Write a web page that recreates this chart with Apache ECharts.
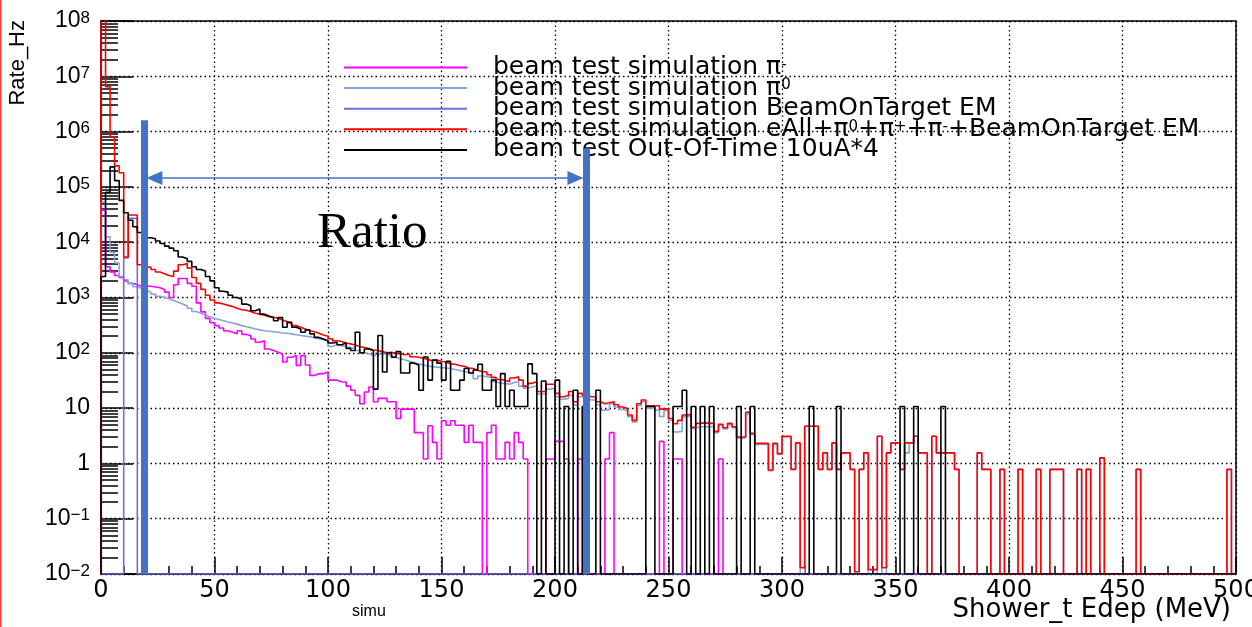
<!DOCTYPE html>
<html>
<head>
<meta charset="utf-8">
<script src="https://cdn.jsdelivr.net/npm/echarts@6/dist/echarts.min.js"></script>
<style>
  html, body { margin: 0; padding: 0; background: #fff; }
  #chart { width: 1252px; height: 627px; }
</style>
</head>
<body>
<div id="chart"></div>
<script>
// histogram: 250 bins of 2 MeV, 0-500 MeV, rate in Hz (0 = empty bin)
const binWidth = 2;
const yMin = 0.01;
const yMax = 1e8;

const piMinus = [
  3.8e4, 3.6e3, 2.9e3, 2.5e3, 2.3e3, 2.0e3, 1.8e3, 1.7e3, 1.6e3, 1.6e3,
  1.6e3, 1.55e3, 1.5e3, 1.4e3, 1.25e3, 1.0e3, 1.7e3, 2.2e3, 2.2e3, 1.8e3,
  1.6e3, 800, 550, 420, 350, 310, 280, 250, 235, 220,
  250, 215, 205, 178, 155, 165, 117, 110, 102, 95,
  68, 83, 89, 59, 89, 60, 39, 42, 42, 45,
  32, 32, 30, 29.5, 25, 21, 17, 12, 19.5, 24,
  13, 15, 15, 13, 13, 6.5, 9.6, 9.6, 9.6, 3.6,
  3.6, 1.2, 4.8, 2.4, 1.2, 5.9, 4.9, 5.9, 4.9, 4.9,
  2.4, 4.9, 2.4, 2.4, 0, 3.6, 4.9, 1.2, 1.2, 2.4,
  1.2, 3.6, 2.4, 1.2, 0, 0, 0, 0, 1.2, 1.2,
  2.5, 2.5, 1.2, 0, 0, 1.2, 1.2, 0, 0, 0,
  0, 1.2, 3.6, 0, 0, 0, 0, 0, 0, 0,
  0, 0, 0, 2.5, 0, 0, 1.2, 1.2, 0, 0,
  0, 0, 0, 0, 0, 0, 1.2, 0, 0, 0,
  0, 0, 0, 0, 0, 0, 0, 0, 0, 0,
  0, 0, 0, 0, 0, 0, 0, 0, 0, 0,
  0, 0, 0, 0, 0, 0, 0, 0, 0, 0,
  0, 0, 0, 0, 0, 0, 0, 0, 0, 0,
  0, 0, 0, 0, 0, 0, 0, 0, 0, 0,
  0, 0, 0, 0, 0, 0, 0, 0, 0, 0,
  0, 0, 0, 0, 0, 0, 0, 0, 0, 0,
  0, 0, 0, 0, 0, 0, 0, 0, 0, 0,
  0, 0, 0, 0, 0, 0, 0, 0, 0, 0,
  0, 0, 0, 0, 0, 0, 0, 0, 0, 0,
  0, 0, 0, 0, 0, 0, 0, 0, 0, 0
];

const piZero = [
  5.3e4, 1.25e4, 6.6e3, 4.2e3, 2.4e3, 2.1e3, 1.8e3, 1.56e3, 1.45e3, 1.35e3,
  1.25e3, 1.15e3, 1.05e3, 1.0e3, 950, 880, 820, 760, 700, 640,
  560, 520, 480, 450, 420, 400, 380, 360, 345, 330,
  310, 295, 285, 270, 260, 250, 245, 240, 235, 228,
  225, 220, 212, 205, 200, 195, 188, 180, 172, 165,
  130, 140, 135, 130, 125, 120, 110, 100, 96, 89,
  92, 96, 94, 88, 82, 78, 74, 70, 67, 63,
  60, 58, 56, 55, 54, 53, 52, 50, 48, 46,
  44, 42, 34, 38, 37, 36, 30, 28, 28, 27,
  29, 30, 25, 23, 24, 25, 18, 18, 22, 23,
  16, 14.5, 15, 17, 11.3, 16, 15, 14, 14, 11.5,
  9.2, 9.4, 12, 10.5, 9.5, 9, 7, 5.6, 11, 13,
  10, 10, 9.2, 7, 9, 6, 3.7, 3.8, 7, 7.2,
  4.3, 4.6, 4.6, 4.6, 4.6, 3.6, 4.8, 4.2, 5.0, 4.4,
  2.9, 2.9, 7.8, 3.3, 2.2, 2.2, 2.2, 0.74, 2.2, 1.45,
  3.0, 3.0, 0.78, 2.35, 0, 4.7, 4.7, 4.7, 0.78, 1.55,
  0.78, 2.35, 0.78, 1.55, 1.55, 0.78, 0, 0.78, 1.55, 0,
  0, 3.1, 0, 1.55, 2.35, 2.35, 0.78, 1.55, 2.35, 3.1,
  1.55, 1.55, 0, 3.1, 1.55, 1.55, 1.55, 1.55, 0.78, 0,
  0, 0, 0, 1.55, 0.78, 0.78, 0, 0, 0.78, 0,
  0, 0, 0.78, 0, 0, 0, 0.78, 0, 0, 0.78,
  0.78, 0.78, 0, 0, 0, 0.78, 0, 0.78, 0, 0,
  1.26, 0, 0, 0, 0, 0, 0, 0, 0.78, 0,
  0, 0, 0, 0, 0, 0, 0, 0, 0, 0,
  0, 0, 0, 0, 0, 0, 0, 0, 0.78, 0
];

const beamOnTarget = [
  0, 0, 0, 0, 0, 5.2e3, 2.7e4, 2.7e4, 0, 0,
  0, 0, 0, 0, 0, 0, 0, 0, 0, 0,
  0, 0, 0, 0, 0, 0, 0, 0, 0, 0,
  0, 0, 0, 0, 0, 0, 0, 0, 0, 0,
  0, 0, 0, 0, 0, 0, 0, 0, 0, 0,
  0, 0, 0, 0, 0, 0, 0, 0, 0, 0,
  0, 0, 0, 0, 0, 0, 0, 0, 0, 0,
  0, 0, 0, 0, 0, 0, 0, 0, 0, 0,
  0, 0, 0, 0, 0, 0, 0, 0, 0, 0,
  0, 0, 0, 0, 0, 0, 0, 0, 0, 0,
  0, 0, 0, 0, 0, 0, 0, 0, 0, 0,
  0, 0, 0, 0, 0, 0, 0, 0, 0, 0,
  0, 0, 0, 0, 0, 0, 0, 0, 0, 0,
  0, 0, 0, 0, 0, 0, 0, 0, 0, 0,
  0, 0, 0, 0, 0, 0, 0, 0, 0, 0,
  0, 0, 0, 0, 0, 0, 0, 0, 0, 0,
  0, 0, 0, 0, 0, 0, 0, 0, 0, 0,
  0, 0, 0, 0, 0, 0, 0, 0, 0, 0,
  0, 0, 0, 0, 0, 0, 0, 0, 0, 0,
  0, 0, 0, 0, 0, 0, 0, 0, 0, 0,
  0, 0, 0, 0, 0, 0, 0, 0, 0, 0,
  0, 0, 0, 0, 0, 0, 0, 0, 0, 0,
  0, 0, 0, 0, 0, 0, 0, 0, 0, 0,
  0, 0, 0, 0, 0, 0, 0, 0, 0, 0,
  0, 0, 0, 0, 0, 0, 0, 0, 0, 0
];

const allSim = [
  3e8, 6.5e6, 8e5, 2.4e5, 1.8e5, 5.4e3, 3.1e4, 3.1e4, 3.9e3, 3.6e3,
  3.5e3, 3.2e3, 2.9e3, 2.7e3, 2.5e3, 2.4e3, 3.0e3, 3.9e3, 4.1e3, 3.4e3,
  2.3e3, 1.8e3, 1.4e3, 1.1e3, 900, 800, 760, 720, 690, 640,
  600, 590, 560, 520, 500, 480, 450, 440, 420, 390,
  365, 340, 310, 290, 270, 250, 240, 225, 210, 200,
  180, 165, 160, 150, 145, 138, 130, 125, 120, 112,
  110, 105, 100, 102, 98, 95, 92, 95, 85, 83,
  80, 76, 72, 74, 70, 68, 63, 62, 59, 57,
  53, 52, 48, 46, 45, 40, 36, 33, 32, 30,
  35, 37, 32, 25, 28, 30, 20, 20, 27, 27,
  18.5, 16, 17, 20, 13, 18.5, 17, 16, 16, 13,
  12, 12.5, 13, 11.5, 10.5, 9.8, 7.5, 6, 12, 14,
  11, 11, 11, 9.6, 9.8, 6.5, 5.2, 6, 7.5, 7.7,
  4.5, 5.3, 5.4, 5.3, 5.3, 3.8, 5.1, 4.4, 5.3, 4.6,
  3.0, 3.0, 8.4, 3.5, 2.3, 2.3, 2.3, 0.76, 2.3, 1.5,
  3.1, 3.1, 0.78, 2.35, 0.013, 4.7, 4.7, 4.7, 0.78, 1.55,
  0.78, 2.35, 0.78, 1.55, 1.55, 0.78, 0.011, 0.78, 1.55, 0.012,
  0.012, 3.1, 0.013, 1.55, 2.35, 2.35, 0.78, 2.35, 2.35, 3.1,
  1.55, 1.55, 0, 3.1, 1.55, 1.55, 1.55, 1.55, 0.78, 0,
  0, 0, 0, 1.55, 0.78, 0.78, 0, 0, 0.78, 0,
  0, 0, 0.78, 0, 0, 0, 0.78, 0, 0, 0.78,
  0.78, 0.78, 0, 0, 0, 0.78, 0, 0.78, 0, 0,
  1.26, 0, 0, 0, 0, 0, 0, 0, 0.78, 0,
  0, 0, 0, 0, 0, 0, 0, 0, 0, 0,
  0, 0, 0, 0, 0, 0, 0, 0, 0.78, 0
];

const outOfTime = [
  2.4e3, 8e4, 2.3e5, 1.3e5, 5.7e4, 3.4e4, 2.5e4, 1.9e4, 1.5e4, 1.4e4,
  1.2e4, 1.15e4, 1.05e4, 9.5e3, 8.5e3, 7.8e3, 7e3, 5.4e3, 5.0e3, 4.5e3,
  3.6e3, 3.2e3, 3.0e3, 2.4e3, 2.0e3, 1.5e3, 1.3e3, 1.25e3, 1.1e3, 1.0e3,
  930, 760, 710, 575, 620, 500, 465, 435, 380, 435,
  290, 355, 290, 270, 235, 260, 220, 190, 178, 165,
  150, 155, 140, 150, 120, 110, 235, 100, 117, 110,
  22, 205, 45, 100, 83, 105, 43, 43, 65, 60,
  21, 84, 32, 74, 65, 32, 70, 21, 21, 32,
  52, 43, 49, 62, 21, 21, 32, 10.7, 42, 10.7,
  21, 10.7, 10.7, 10.7, 63, 42, 0, 31, 0, 0,
  32, 0, 10.7, 0, 21, 0, 10.7, 0, 0, 21,
  0, 0, 0, 0, 0, 0, 0, 0, 0, 0,
  10.7, 10.7, 0, 0, 0, 0, 10.7, 10.7, 21, 0,
  10.7, 0, 10.7, 0, 10.7, 0, 0, 0, 0, 0,
  10.7, 0, 0, 10.7, 0, 0, 0, 0, 0, 0,
  0, 0, 0, 0, 0, 0, 10.7, 0, 0, 0,
  0, 0, 10.7, 0, 0, 0, 0, 0, 0, 0,
  0, 0, 0, 0, 0, 0, 10.7, 0, 0, 10.7,
  0, 0, 0, 0, 0, 10.7, 0, 0, 0, 0,
  0, 0, 0, 0, 0, 0, 0, 0, 0, 0,
  0, 0, 0, 0, 0, 0, 0, 0, 0, 0,
  0, 0, 0, 0, 0, 0, 0, 0, 0, 0,
  0, 0, 0, 0, 0, 0, 0, 0, 0, 0,
  0, 0, 0, 0, 0, 0, 0, 0, 0, 0,
  0, 0, 0, 0, 0, 0, 0, 0, 0, 0
];

const seriesNames = ['piMinus', 'piZero', 'beamOnTarget', 'allSim', 'outOfTime'];
const legendLabels = [
  'beam test simulation π{s|-}',
  'beam test simulation π{s|0}',
  'beam test simulation BeamOnTarget EM',
  'beam test simulation eAll+π{s|0}+π{s|+}+π{s|-}+BeamOnTarget EM',
  'beam test Out-Of-Time 10uA*4'
];
const seriesColors = ['#ff00ff', '#87a3de', '#6e6ee0', '#ff0000', '#000000'];
const seriesValues = [piMinus, piZero, beamOnTarget, allSim, outOfTime];

// annotation: ratio window (MeV) and heights (Hz)
const ratioBarX = [18.9, 213.7];
const ratioBarTop = [1.6e6, 5.0e5];
const ratioArrow = { from: 23.5, to: 209, y: 1.45e5 };

const binEdges = allSim.map((_, i) => i * binWidth);

const yMinorTicks = [];
for (let e = -2; e < 8; e++) {
  for (let m = 2; m <= 9; m++) yMinorTicks.push(m * Math.pow(10, e));
}

function toSteps(vals) {
  const pts = [[0, yMin]];
  vals.forEach((v, i) => pts.push([binEdges[i], v > 0 ? v : yMin]));
  const last = pts[pts.length - 1][1];
  pts.push([binEdges[vals.length - 1] + binWidth, last]);
  return pts;
}

const chart = echarts.init(document.getElementById('chart'), null, { renderer: 'canvas' });

const histSeries = seriesNames.map((name, i) => ({
  name: name,
  type: 'line',
  step: 'end',
  symbol: 'none',
  showSymbol: false,
  clip: true,
  silent: true,
  data: toSteps(seriesValues[i]),
  itemStyle: { color: seriesColors[i] },
  lineStyle: { color: seriesColors[i], width: 1.6 }
}));

const annotBlue = '#4472c4';
histSeries.push({
  name: 'annot',
  type: 'line',
  data: [],
  silent: true,
  markLine: {
    silent: true,
    animation: false,
    symbol: ['none', 'none'],
    label: { show: false },
    emphasis: { disabled: true },
    data: [
      [{ coord: [ratioBarX[0], ratioBarTop[0]], lineStyle: { width: 7, color: annotBlue, type: 'solid' } },
       { coord: [ratioBarX[0], yMin] }],
      [{ coord: [ratioBarX[1], ratioBarTop[1]], lineStyle: { width: 7, color: annotBlue, type: 'solid' } },
       { coord: [ratioBarX[1], yMin] }],
      [{ coord: [ratioArrow.from, ratioArrow.y], symbol: 'triangle', symbolSize: [14, 16],
         lineStyle: { width: 1.5, color: annotBlue, type: 'solid' } },
       { coord: [ratioArrow.to, ratioArrow.y], symbol: 'triangle', symbolSize: [14, 16] }]
    ]
  }
});

function yLabel(v) {
  const e = Math.round(Math.log10(v));
  if (e === 0) return '1';
  if (e === 1) return '10';
  return '10{s|' + (e < 0 ? '\u2212' + (-e) : e) + '}';
}

chart.setOption({
  animation: false,
  backgroundColor: '#ffffff',
  grid: {
    left: 101, right: 16, top: 21, bottom: 53,
    outerBoundsMode: 'none',
    containLabel: false,
    show: true, borderColor: '#000', borderWidth: 1.5, backgroundColor: 'transparent'
  },
  legend: {
    data: seriesNames,
    orient: 'vertical',
    left: 339,
    top: 50,
    itemWidth: 123,
    itemHeight: 2,
    itemGap: -4.4,
    icon: 'rect',
    selectedMode: false,
    formatter: name => legendLabels[seriesNames.indexOf(name)],
    textStyle: {
      fontFamily: 'DejaVu Sans',
      fontSize: 25,
      lineHeight: 20,
      color: '#000',
      padding: [0, 0, 0, 21],
      rich: {
        s: { fontFamily: 'DejaVu Sans', fontSize: 15, lineHeight: 20, verticalAlign: 'top', padding: [0, 0, 6, 0] }
      }
    }
  },
  xAxis: {
    type: 'value',
    min: 0,
    max: 500,
    interval: 50,
    axisLine: { show: true, lineStyle: { color: '#000', width: 1.5 } },
    axisTick: { show: true, inside: true, length: 17, lineStyle: { color: '#000', width: 1.5 } },
    minorTick: { show: true, splitNumber: 5, length: 8, lineStyle: { color: '#000', width: 1.5 } },
    axisLabel: { fontFamily: 'DejaVu Sans', fontSize: 24, color: '#000', margin: 5 },
    splitLine: { show: true, lineStyle: { color: '#000', width: 1.3, type: [1.5, 3] } }
  },
  yAxis: [
    {
      type: 'log',
      logBase: 10,
      min: yMin,
      max: yMax,
      interval: 1,
      axisLine: { show: true, lineStyle: { color: '#000', width: 1.5 } },
      axisTick: { show: true, inside: true, length: 32, lineStyle: { color: '#000', width: 1.5 } },
      axisLabel: {
        formatter: yLabel,
        fontFamily: 'Liberation Sans',
        fontSize: 23,
        color: '#000',
        margin: 11,
        rich: {
          s: { fontFamily: 'Liberation Sans', fontSize: 17, lineHeight: 17, verticalAlign: 'top', padding: [0, 0, 8, 0] }
        }
      },
      splitLine: { show: true, lineStyle: { color: '#000', width: 1.3, type: [1.5, 3] } }
    },
    {
      type: 'log',
      logBase: 10,
      min: yMin,
      max: yMax,
      interval: 1,
      position: 'left',
      axisLine: { show: false },
      axisLabel: { show: false },
      splitLine: { show: false },
      axisTick: {
        show: true, inside: true, length: 17,
        customValues: yMinorTicks,
        lineStyle: { color: '#000', width: 1.5 }
      }
    }
  ],
  graphic: [
    { type: 'rect', left: 0, top: 0, shape: { width: 1.5, height: 627 }, style: { fill: '#ff3b3b' }, silent: true },
    {
      type: 'text', x: 29, y: 20, rotation: Math.PI / 2, silent: true,
      style: { text: 'Rate_Hz', fontFamily: 'Liberation Sans', fontSize: 22, fill: '#000', align: 'right', verticalAlign: 'bottom' }
    },
    {
      type: 'text', x: 1231, y: 597, silent: true,
      style: { text: 'Shower_t Edep (MeV)', fontFamily: 'DejaVu Sans', fontSize: 26, fill: '#000', align: 'right', verticalAlign: 'top' }
    },
    {
      type: 'text', left: 317, top: 208, silent: true, z: 10,
      style: { text: 'Ratio', fontFamily: 'Liberation Serif', fontSize: 51, fill: '#000' }
    },
    {
      type: 'text', left: 352, top: 604, silent: true,
      style: { text: 'simu', fontFamily: 'Liberation Sans', fontSize: 16, fill: '#000' }
    }
  ],
  series: histSeries
});
</script>
</body>
</html>
